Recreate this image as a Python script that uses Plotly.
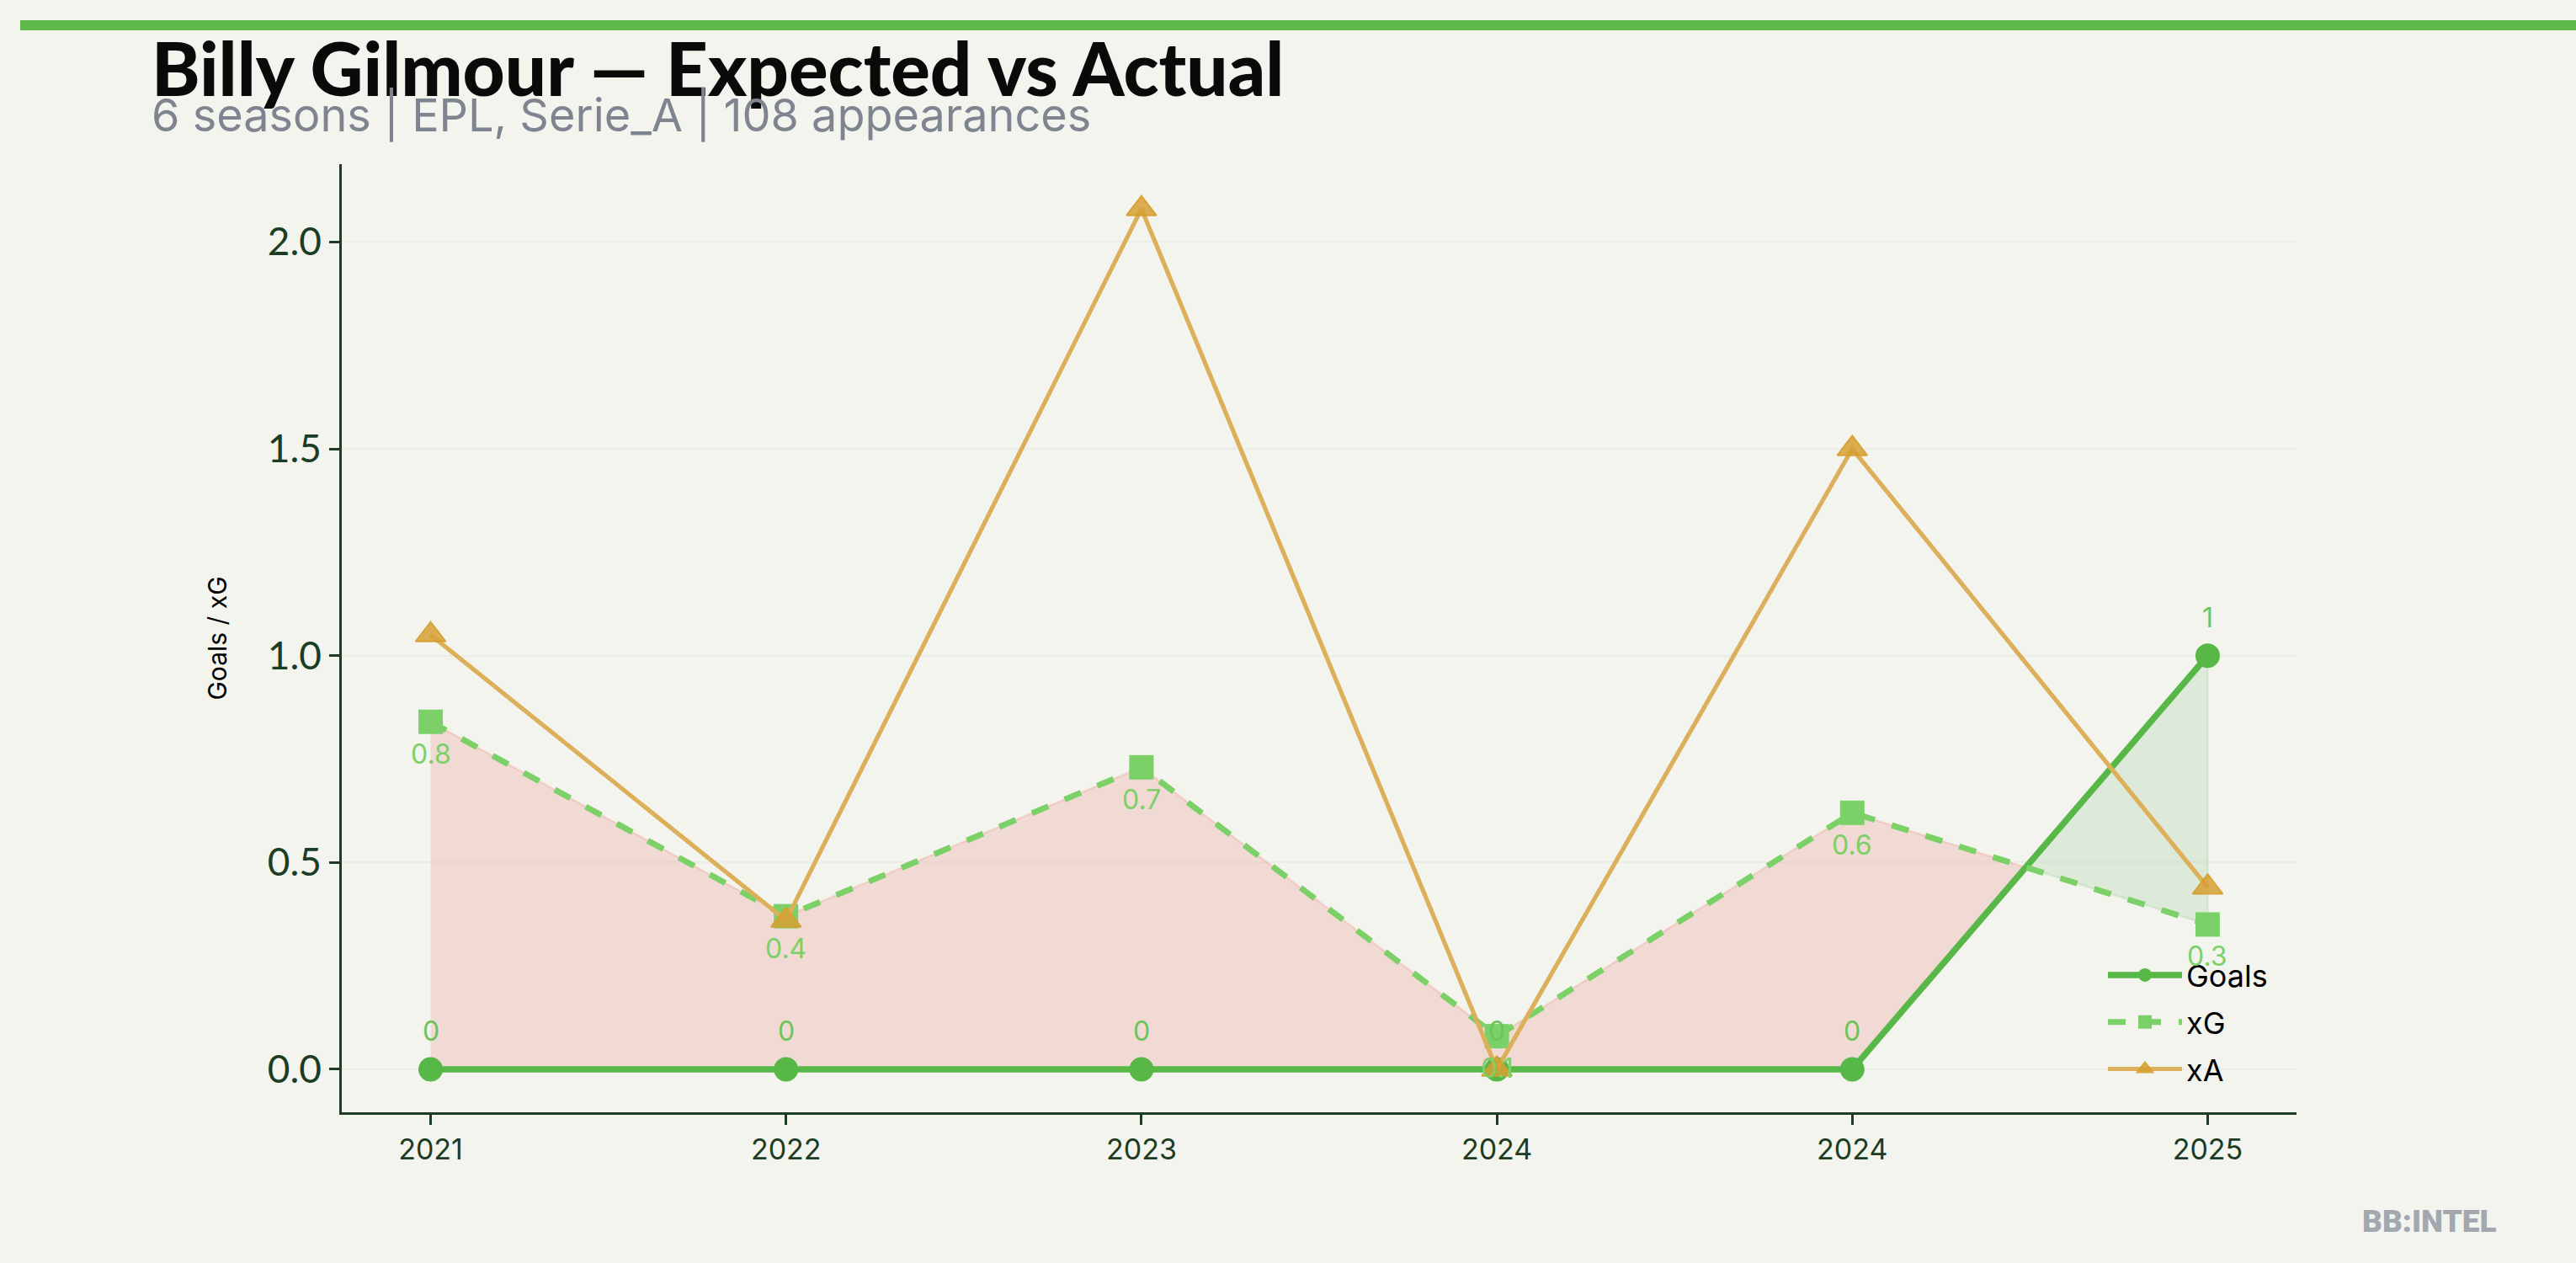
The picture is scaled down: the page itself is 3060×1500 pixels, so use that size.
import numpy as np
import plotly.graph_objects as go

seasons = ["2021", "2022", "2023", "2024", "2024", "2025"]
goals = [0, 0, 0, 0, 0, 1]
xg = [0.84, 0.37, 0.73, 0.08, 0.62, 0.35]
xa = [1.05, 0.36, 2.08, 0.0, 1.50, 0.44]

title_text = "Billy Gilmour — Expected vs Actual"
subtitle_text = "6 seasons | EPL, Serie_A | 108 appearances"
y_title = "Goals / xG"
watermark = "BB:INTEL"

W, H = 3060, 1500
ML, MR, MT, MB = 406, 332, 195, 179
PW, PH = W - ML - MR, H - MT - MB

def px_x(p):
    return (p - ML) / PW

def px_y(p):
    return (H - MB - p) / PH

BG = "#f4f4ef"
AXC = "#1c3d24"
C_GOALS = "#57b847"
C_XG = "#7bd167"
C_XA = "#dcb05a"

idx = np.arange(len(seasons), dtype=float)
g = np.array(goals, dtype=float)
e = np.array(xg, dtype=float)

# dense x including crossing points of goals and xG
xs, gs, es = [idx[0]], [g[0]], [e[0]]
for i in range(len(idx) - 1):
    d0, d1 = e[i] - g[i], e[i + 1] - g[i + 1]
    if d0 * d1 < 0:
        t = d0 / (d0 - d1)
        xc = idx[i] + t
        yc = g[i] + t * (g[i + 1] - g[i])
        xs.append(xc); gs.append(yc); es.append(yc)
    xs.append(idx[i + 1]); gs.append(g[i + 1]); es.append(e[i + 1])
xs, gs, es = np.array(xs), np.array(gs), np.array(es)

red_top = np.maximum(es, gs)
green_bot = np.minimum(es, gs)

fig = go.Figure()

fig.add_trace(go.Scatter(
    x=np.concatenate([xs, xs[::-1]]),
    y=np.concatenate([red_top, gs[::-1]]),
    fill="toself", fillcolor="rgba(231,76,60,0.15)",
    line=dict(color="rgba(231,76,60,0.15)", width=2.5),
    mode="lines", showlegend=False, hoverinfo="skip"))
fig.add_trace(go.Scatter(
    x=np.concatenate([xs, xs[::-1]]),
    y=np.concatenate([gs, green_bot[::-1]]),
    fill="toself", fillcolor="rgba(92,184,92,0.15)",
    line=dict(color="rgba(92,184,92,0.15)", width=2.5),
    mode="lines", showlegend=False, hoverinfo="skip"))

fig.add_trace(go.Scatter(
    x=idx, y=goals, name="Goals", mode="lines+markers",
    line=dict(color=C_GOALS, width=7.5),
    marker=dict(symbol="circle", size=29, color=C_GOALS),
    legendgroup="g1"))
fig.add_trace(go.Scatter(
    x=idx, y=xg, name="xG", mode="lines+markers",
    line=dict(color=C_XG, width=7, dash="dash"),
    marker=dict(symbol="square", size=29, color=C_XG),
    legendgroup="g2"))
fig.add_trace(go.Scatter(
    x=idx, y=xa, name="xA", mode="lines+markers",
    line=dict(color=C_XA, width=5.2),
    marker=dict(symbol="triangle-up", size=31, color="rgba(214,160,52,0.85)",
                line=dict(color="rgba(214,158,45,0.9)", width=2)),
    legendgroup="g3"))

annots = []
for i in range(len(idx)):
    annots.append(dict(x=idx[i], y=goals[i], xref="x", yref="y",
                       text=f"{goals[i]:g}", showarrow=False, yshift=45,
                       font=dict(family="Inter", size=32, color="#6cc45a")))
    annots.append(dict(x=idx[i], y=xg[i], xref="x", yref="y",
                       text=f"{xg[i]:.1f}", showarrow=False, yshift=-38,
                       font=dict(family="Inter", size=32, color=C_XG)))

annots.append(dict(x=px_x(178), y=px_y(80), xref="paper", yref="paper",
                   xanchor="left", yanchor="middle", showarrow=False,
                   text=title_text,
                   font=dict(family="Lato", size=87, weight=900, color="#0a0a0a")))
annots.append(dict(x=px_x(178), y=px_y(137), xref="paper", yref="paper",
                   xanchor="left", yanchor="middle", showarrow=False,
                   text=subtitle_text,
                   font=dict(family="Inter", size=54, color="#7f8590")))
annots.append(dict(x=px_x(2968), y=px_y(1450), xref="paper", yref="paper",
                   xanchor="right", yanchor="middle", showarrow=False,
                   text=watermark,
                   font=dict(family="Roboto", size=37, weight=900, color="#a3a7ae")))

shapes = [dict(type="rect", xref="paper", yref="paper",
               x0=px_x(24), x1=px_x(3060), y0=px_y(36), y1=px_y(24),
               fillcolor="#5cb94a", line=dict(width=0), layer="above")]

fig.update_layout(
    width=W, height=H,
    paper_bgcolor=BG, plot_bgcolor=BG,
    margin=dict(l=ML, r=MR, t=MT, b=MB),
    annotations=annots, shapes=shapes,
    showlegend=True,
    legend=dict(x=px_x(2499), y=px_y(1128), xanchor="left", yanchor="top",
                bgcolor="rgba(0,0,0,0)", font=dict(family="Inter", size=36, color="#000"),
                tracegroupgap=6, itemwidth=88),
    xaxis=dict(range=[-0.25, 5.25], tickmode="array", tickvals=idx, ticktext=seasons,
               showgrid=False, zeroline=False, showline=True, linecolor=AXC, linewidth=2.5,
               ticks="outside", ticklen=12, tickwidth=2.5, tickcolor=AXC,
               tickfont=dict(family="Inter", size=34, color=AXC)),
    yaxis=dict(range=[-0.104, 2.188], tickvals=[0, 0.5, 1.0, 1.5, 2.0],
               ticktext=["0.0", "0.5", "1.0", "1.5", "2.0"],
               showgrid=True, gridcolor="#ecede6", gridwidth=1.5,
               zeroline=False, showline=True, linecolor=AXC, linewidth=2.5,
               ticks="outside", ticklen=12, tickwidth=2.5, tickcolor=AXC,
               tickfont=dict(family="Lato", size=46, color=AXC),
               title=dict(text=y_title, standoff=40,
                          font=dict(family="Inter", size=30, color="#000"))),
)

fig.write_html("out.html", config={"displayModeBar": False},
               post_script="document.body.style.margin='0';document.body.style.background='#f4f4ef';")
